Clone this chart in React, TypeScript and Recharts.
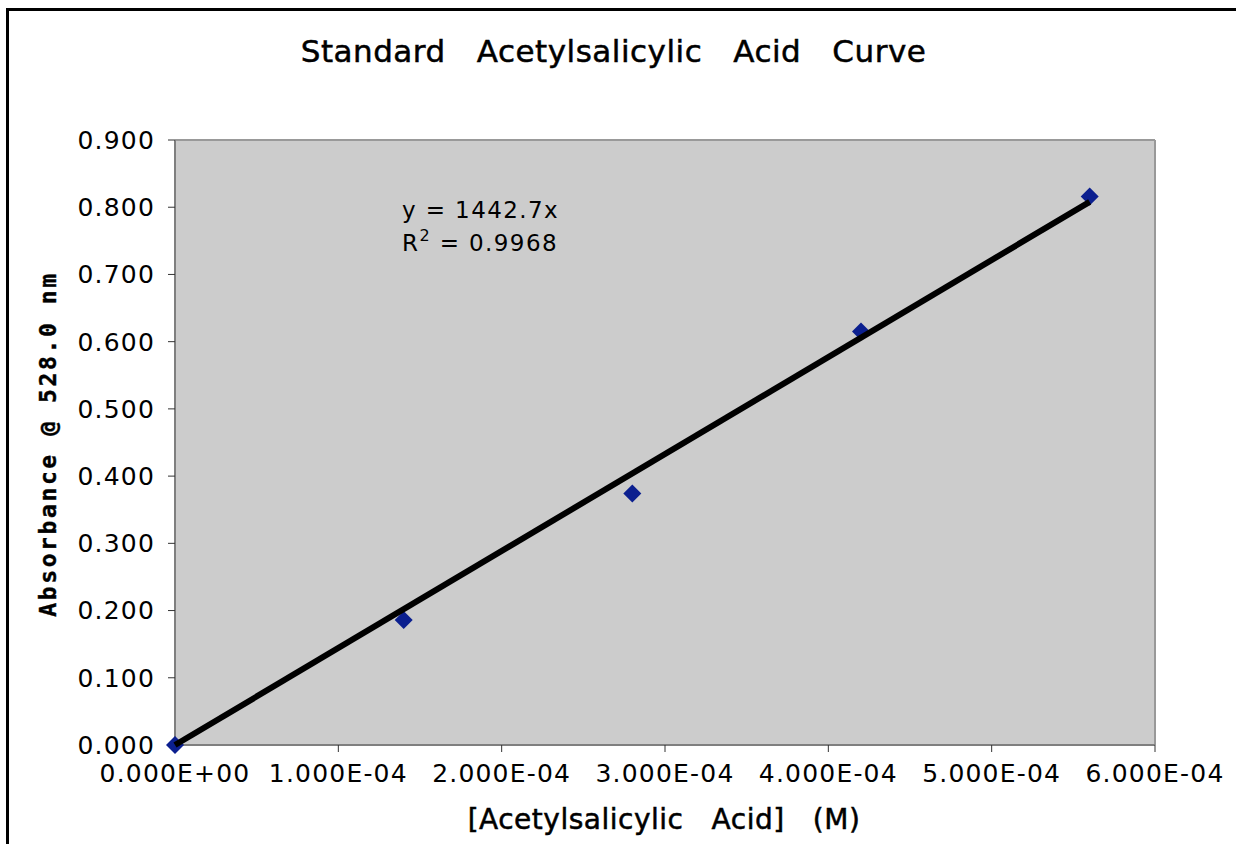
import { CartesianGrid, ReferenceLine, Scatter, ScatterChart, XAxis, YAxis } from 'recharts'

// measured standards
const concentrations = [0, 1.4e-4, 2.8e-4, 4.2e-4, 5.6e-4]
const absorbances = [0, 0.186, 0.374, 0.615, 0.816]

// linear trendline through origin (y = 1442.7x), endpoints
const trendX = [0, 5.6e-4]
const trendY = [0, 0.808]

const xTicks = [0, 1e-4, 2e-4, 3e-4, 4e-4, 5e-4, 6e-4]
const yTicks = [0, 0.1, 0.2, 0.3, 0.4, 0.5, 0.6, 0.7, 0.8, 0.9]

const points = concentrations.map((x, i) => ({ x, y: absorbances[i] }))
const trend = trendX.map((x, i) => ({ x, y: trendY[i] }))

const FONT = '"DejaVu Sans", sans-serif'

function sci(v: number): string {
  if (v === 0) return '0.000E+00'
  const e = Math.floor(Math.log10(Math.abs(v)) + 1e-9)
  const m = v / Math.pow(10, e)
  return `${m.toFixed(3)}E${e < 0 ? '-' : '+'}${String(Math.abs(e)).padStart(2, '0')}`
}

function Diamond(props: any) {
  const { cx, cy } = props
  const r = 9
  return (
    <polygon
      points={`${cx},${cy - r} ${cx + r},${cy} ${cx},${cy + r} ${cx - r},${cy}`}
      fill="#0b1f8f"
    />
  )
}

const tickStyle = { fill: '#000', fontSize: 25, fontFamily: FONT, letterSpacing: 1.2 }

export default function App() {
  return (
    <div
      style={{
        position: 'absolute',
        left: 0,
        top: 0,
        width: 1236,
        height: 844,
        overflow: 'hidden',
        background: '#fff',
        fontFamily: FONT,
      }}
    >
      <div
        style={{
          position: 'absolute',
          left: 6,
          top: 8,
          width: 1400,
          height: 1000,
          borderTop: '3px solid #000',
          borderLeft: '3px solid #000',
        }}
      />
      <ScatterChart
        width={1236}
        height={844}
        margin={{ top: 140, right: 81, bottom: 0, left: 0 }}
        style={{ position: 'absolute', left: 0, top: 0 }}
      >
        <CartesianGrid horizontal={false} vertical={false} fill="#cccccc" fillOpacity={1} />
        <XAxis
          type="number"
          dataKey="x"
          domain={[0, 6e-4]}
          ticks={xTicks}
          tickFormatter={sci}
          height={99}
          tickSize={7}
          tickMargin={12}
          axisLine={{ stroke: '#7f7f7f', strokeWidth: 2 }}
          tickLine={{ stroke: '#333' }}
          tick={tickStyle}
          interval={0}
        />
        <YAxis
          type="number"
          dataKey="y"
          domain={[0, 0.9]}
          ticks={yTicks}
          tickFormatter={(v: number) => v.toFixed(3)}
          width={175}
          tickSize={7}
          tickMargin={13}
          axisLine={{ stroke: '#7f7f7f', strokeWidth: 2 }}
          tickLine={{ stroke: '#333' }}
          tick={tickStyle}
          interval={0}
        />
        <ReferenceLine y={0.9} stroke="#999" strokeWidth={2} />
        <ReferenceLine x={6e-4} stroke="#999" strokeWidth={2} />
        <Scatter data={points} shape={Diamond} isAnimationActive={false} />
        <Scatter
          data={trend}
          line={{ stroke: '#000', strokeWidth: 6 }}
          shape={() => <g />}
          isAnimationActive={false}
        />
      </ScatterChart>

      <div
        style={{
          position: 'absolute',
          left: 0,
          width: 1227,
          top: 33,
          textAlign: 'center',
          fontSize: 31,
          letterSpacing: 0.5,
          WebkitTextStroke: '0.5px #000',
          whiteSpace: 'pre',
          color: '#000',
        }}
      >
        {'Standard   Acetylsalicylic   Acid   Curve'}
      </div>

      <div
        style={{
          position: 'absolute',
          left: 0,
          width: 1328,
          top: 803,
          textAlign: 'center',
          fontSize: 28,
          letterSpacing: 0.5,
          WebkitTextStroke: '0.5px #000',
          whiteSpace: 'pre',
          color: '#000',
        }}
      >
        {'[Acetylsalicylic   Acid]   (M)'}
      </div>

      <div
        style={{
          position: 'absolute',
          left: 48,
          top: 444,
          transform: 'translate(-50%, -50%) rotate(-90deg)',
          fontFamily: '"DejaVu Sans Mono", monospace',
          fontWeight: 'bold',
          fontSize: 23,
          letterSpacing: 2.6,
          WebkitTextStroke: '0.4px #000',
          whiteSpace: 'pre',
          color: '#000',
        }}
      >
        {'Absorbance @ 528.0 nm'}
      </div>

      <div
        style={{
          position: 'absolute',
          left: 402,
          top: 194,
          fontSize: 23,
          letterSpacing: 1.4,
          lineHeight: '33px',
          color: '#000',
          whiteSpace: 'pre',
        }}
      >
        <div>{'y = 1442.7x'}</div>
        <div>
          R<sup style={{ fontSize: 16, verticalAlign: 'top', lineHeight: '18px' }}>2</sup>
          {' = 0.9968'}
        </div>
      </div>
    </div>
  )
}
